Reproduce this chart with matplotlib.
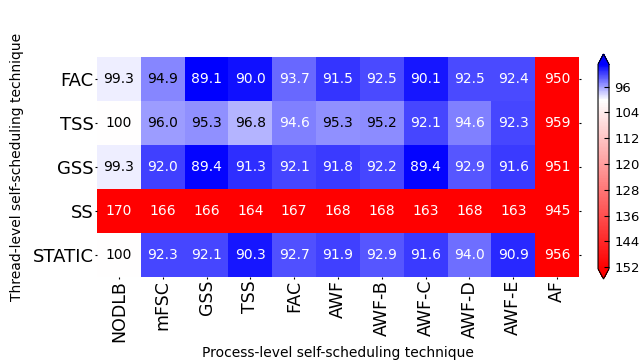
import numpy as np
import matplotlib
matplotlib.use('Agg')
import matplotlib.pyplot as plt
from matplotlib.colors import TwoSlopeNorm, Normalize, ListedColormap

# DATA
thread_level = ['FAC', 'TSS', 'GSS', 'SS', 'STATIC']
process_level = ['NODLB', 'mFSC', 'GSS', 'TSS', 'FAC', 'AWF', 'AWF-B',
                 'AWF-C', 'AWF-D', 'AWF-E', 'AF']
fac_row = [99.3, 94.9, 89.1, 90.0, 93.7, 91.5, 92.5, 90.1, 92.5, 92.4, 950]
tss_row = [100, 96.0, 95.3, 96.8, 94.6, 95.3, 95.2, 92.1, 94.6, 92.3, 959]
gss_row = [99.3, 92.0, 89.4, 91.3, 92.1, 91.8, 92.2, 89.4, 92.9, 91.6, 951]
ss_row = [170, 166, 166, 164, 167, 168, 168, 163, 168, 163, 945]
static_row = [100, 92.3, 92.1, 90.3, 92.7, 91.9, 92.9, 91.6, 94.0, 90.9, 956]
values = np.array([fac_row, tss_row, gss_row, ss_row, static_row])

# COLOUR SCALE (white at 100, clipped at 152)
vmin, vcenter, vmax = 89.1, 100, 152.5
levels = np.linspace(vmin, vmax, 256)
base = plt.get_cmap('bwr')
cmap = ListedColormap(base(TwoSlopeNorm(vcenter, vmin, vmax)(levels)))
cmap.set_under(base(0.0))
cmap.set_over(base(1.0))
norm = Normalize(vmin, vmax)

fig = plt.figure(figsize=(6.44, 3.64), dpi=100)
ax = fig.add_axes([0.1506, 0.2398, 0.7484, 0.6044])
cax = fig.add_axes([0.9286, 0.2335, 0.0171, 0.6181])

mesh = ax.pcolormesh(values, cmap=cmap, norm=norm)
ax.set_xlim(0, len(process_level))
ax.set_ylim(len(thread_level), 0)

# ANNOTATIONS (dark text on light cells)
for i in range(values.shape[0]):
    for j in range(values.shape[1]):
        v = values[i, j]
        txt = f'{v:.0f}' if v >= 99.95 else f'{v:.1f}'
        if v > vmax:
            rgba = cmap.get_over()
        else:
            rgba = cmap(norm(v))
        rgb = np.array(rgba[:3])
        lin = np.where(rgb <= 0.03928, rgb / 12.92, ((rgb + 0.055) / 1.055) ** 2.4)
        lum = 0.2126 * lin[0] + 0.7152 * lin[1] + 0.0722 * lin[2]
        ax.text(j + 0.5, i + 0.5, txt, ha='center', va='center', fontsize=10,
                color='black' if lum > 0.29 else 'white')

ax.set_xticks(np.arange(len(process_level)) + 0.5)
ax.set_xticklabels(process_level, rotation=90, fontsize=12.5)
ax.set_yticks(np.arange(len(thread_level)) + 0.5)
ax.set_yticklabels(thread_level, fontsize=13)
ax.tick_params(length=1.5, right=True, pad=0.8)
for s in ax.spines.values():
    s.set_visible(False)

ax.set_xlabel('Process-level self-scheduling technique', fontsize=10, labelpad=3)
ax.set_ylabel('Thread-level self-scheduling technique', fontsize=10, labelpad=6)

cb = fig.colorbar(mesh, cax=cax, extend='both')
cb.set_ticks(np.arange(96, 153, 8))
cb.ax.invert_yaxis()
cb.ax.tick_params(labelsize=9.5, length=3.5, direction='in', pad=4)
cb.outline.set_linewidth(0.8)

fig.savefig('out.png', dpi=100)
